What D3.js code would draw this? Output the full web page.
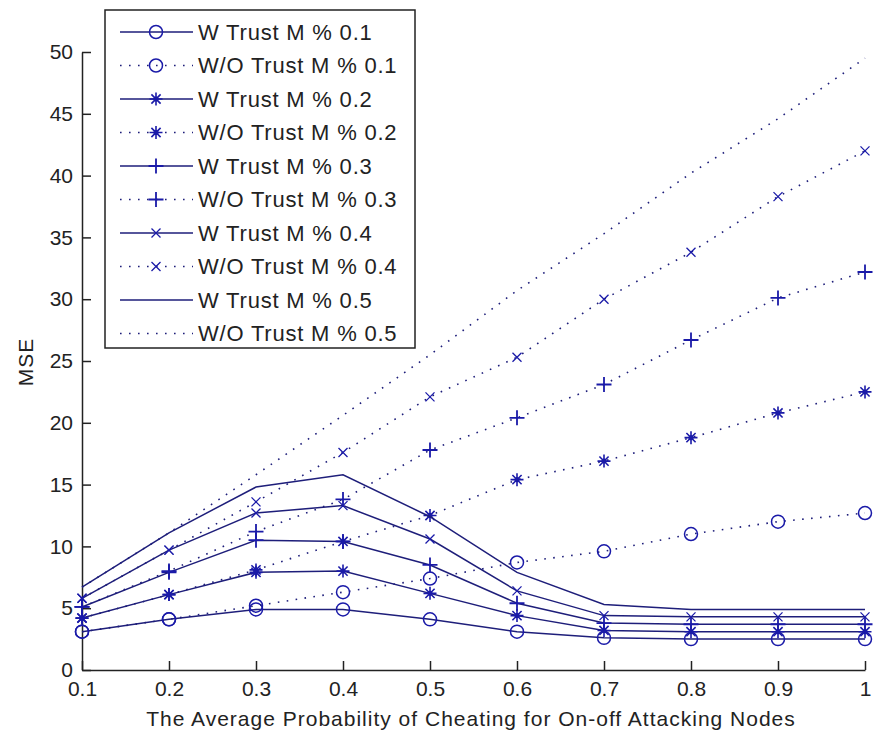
<!DOCTYPE html>
<html>
<head>
<meta charset="utf-8">
<script src="https://cdn.jsdelivr.net/npm/d3@7"></script>
<style>
  body { margin: 0; background: #fff; }
  svg { display: block; font-family: "Liberation Sans", Arial, sans-serif; }
  .axis path, .axis line { stroke: #222; stroke-width: 1.5; }
  .axis text { font-size: 21px; fill: #222; }
</style>
</head>
<body>
<svg id="chart" width="873" height="738"></svg>
<script>
// probability of cheating (x axis)
const probs = [0.1, 0.2, 0.3, 0.4, 0.5, 0.6, 0.7, 0.8, 0.9, 1];
const yTicks = [0, 5, 10, 15, 20, 25, 30, 35, 40, 45, 50];

// MSE with trust management, by % of malicious nodes
const w01 = [3.1, 4.1, 4.9, 4.9, 4.1, 3.1, 2.6, 2.5, 2.5, 2.5];
const w02 = [4.2, 6.1, 7.9, 8.0, 6.2, 4.4, 3.2, 3.1, 3.1, 3.1];
const w03 = [5.1, 7.9, 10.5, 10.4, 8.5, 5.4, 3.8, 3.7, 3.7, 3.7];
const w04 = [5.8, 9.7, 12.7, 13.3, 10.6, 6.4, 4.4, 4.3, 4.3, 4.3];
const w05 = [6.7, 11.1, 14.8, 15.8, 12.4, 7.9, 5.3, 4.9, 4.9, 4.9];

// MSE without trust management
const wo01 = [3.1, 4.1, 5.2, 6.3, 7.4, 8.7, 9.6, 11.0, 12.0, 12.7];
const wo02 = [4.2, 6.1, 8.1, 10.4, 12.5, 15.4, 16.9, 18.8, 20.8, 22.5];
const wo03 = [5.1, 8.0, 11.2, 13.8, 17.8, 20.4, 23.1, 26.7, 30.1, 32.2];
const wo04 = [5.8, 9.7, 13.6, 17.6, 22.1, 25.3, 30.0, 33.8, 38.3, 42.0];
const wo05 = [6.7, 11.1, 15.8, 20.6, 25.5, 30.7, 35.3, 40.2, 44.6, 49.5];

const labels = ["W Trust M % 0.1", "W/O Trust M % 0.1", "W Trust M % 0.2", "W/O Trust M % 0.2",
  "W Trust M % 0.3", "W/O Trust M % 0.3", "W Trust M % 0.4", "W/O Trust M % 0.4",
  "W Trust M % 0.5", "W/O Trust M % 0.5"];
const markers = ["o", "o", "*", "*", "+", "+", "x", "x", "", ""];
const values = [w01, wo01, w02, wo02, w03, wo03, w04, wo04, w05, wo05];

const series = labels.map((name, i) => ({
  name: name,
  dotted: i % 2 == 1,
  marker: markers[i],
  points: probs.map((p, j) => ({x: p, y: values[i][j]}))
}));

const lineColor = "#1e1e7a",
  markColor = "#1a1aa8";

const svg = d3.select("#chart");
const x = d3.scaleLinear().domain([0.1, 1]).range([82, 865]);
const y = d3.scaleLinear().domain([0, 50]).range([670, 52]);

// marker drawing
function drawMarker(g, type) {
  if (type == "o") {
    g.append("circle").attr("r", 6.5).attr("fill", "none")
      .attr("stroke", markColor).attr("stroke-width", 1.5);
  } else if (type == "+") {
    g.append("path").attr("d", "M-7.5,0H7.5M0,-7.5V7.5")
      .attr("stroke", markColor).attr("stroke-width", 1.8);
  } else if (type == "x") {
    g.append("path").attr("d", "M-4.5,-4.5L4.5,4.5M-4.5,4.5L4.5,-4.5")
      .attr("stroke", markColor).attr("stroke-width", 1.3);
  } else if (type == "*") {
    g.append("path").attr("d", "M-6.5,0H6.5M0,-6.5V6.5M-4.6,-4.6L4.6,4.6M-4.6,4.6L4.6,-4.6")
      .attr("stroke", markColor).attr("stroke-width", 1.6);
    g.append("circle").attr("r", 2.5).attr("fill", markColor);
  }
}

// axes
const xAxis = d3.axisBottom(x).tickValues(probs)
  .tickSizeInner(-9).tickSizeOuter(0).tickPadding(11)
  .tickFormat(d => d == 1 ? "1" : d3.format(".1f")(d));
svg.append("g").attr("class", "axis")
  .attr("transform", "translate(0,670)")
  .call(xAxis);

const yAxis = d3.axisLeft(y).tickValues(yTicks)
  .tickSizeInner(-9).tickSizeOuter(0).tickPadding(9);
svg.append("g").attr("class", "axis")
  .attr("transform", "translate(82,0)")
  .call(yAxis);

svg.append("text")
  .attr("x", 471).attr("y", 726)
  .attr("text-anchor", "middle")
  .style("font-size", "21px").style("fill", "#222")
  .style("letter-spacing", "1px")
  .text("The Average Probability of Cheating for On-off Attacking Nodes");

svg.append("text")
  .attr("transform", "translate(33,362) rotate(-90)")
  .attr("text-anchor", "middle")
  .style("font-size", "21px").style("fill", "#222")
  .style("letter-spacing", "1px")
  .text("MSE");

// lines
const line = d3.line().x(d => x(d.x)).y(d => y(d.y));

series.forEach(s => {
  svg.append("path")
    .datum(s.points)
    .attr("d", line)
    .attr("fill", "none")
    .attr("stroke", lineColor)
    .attr("stroke-width", s.dotted ? 1.6 : 1.5)
    .attr("stroke-dasharray", s.dotted ? "1.6 7.4" : null)
    .attr("stroke-linecap", "butt");
  if (s.marker) {
    svg.append("g").selectAll("g")
      .data(s.points)
      .enter()
      .append("g")
      .attr("transform", d => "translate(" + x(d.x) + "," + y(d.y) + ")")
      .each(function() { drawMarker(d3.select(this), s.marker); });
  }
});

// legend
const legend = svg.append("g");
legend.append("rect")
  .attr("x", 105).attr("y", 10).attr("width", 310).attr("height", 338)
  .attr("fill", "#fff").attr("stroke", "#222").attr("stroke-width", 1.5);

series.forEach((s, i) => {
  const ly = 32 + i * 33.5;
  legend.append("line")
    .attr("x1", 120).attr("x2", 193).attr("y1", ly).attr("y2", ly)
    .attr("stroke", lineColor).attr("stroke-width", s.dotted ? 1.6 : 1.5)
    .attr("stroke-dasharray", s.dotted ? "1.6 7.4" : null);
  if (s.marker) {
    const g = legend.append("g").attr("transform", "translate(156," + ly + ")");
    drawMarker(g, s.marker);
  }
  legend.append("text")
    .attr("x", 198).attr("y", ly).attr("dy", "0.36em")
    .style("font-size", "22px").style("fill", "#222")
    .style("letter-spacing", "0.8px")
    .text(s.name);
});
</script>
</body>
</html>
